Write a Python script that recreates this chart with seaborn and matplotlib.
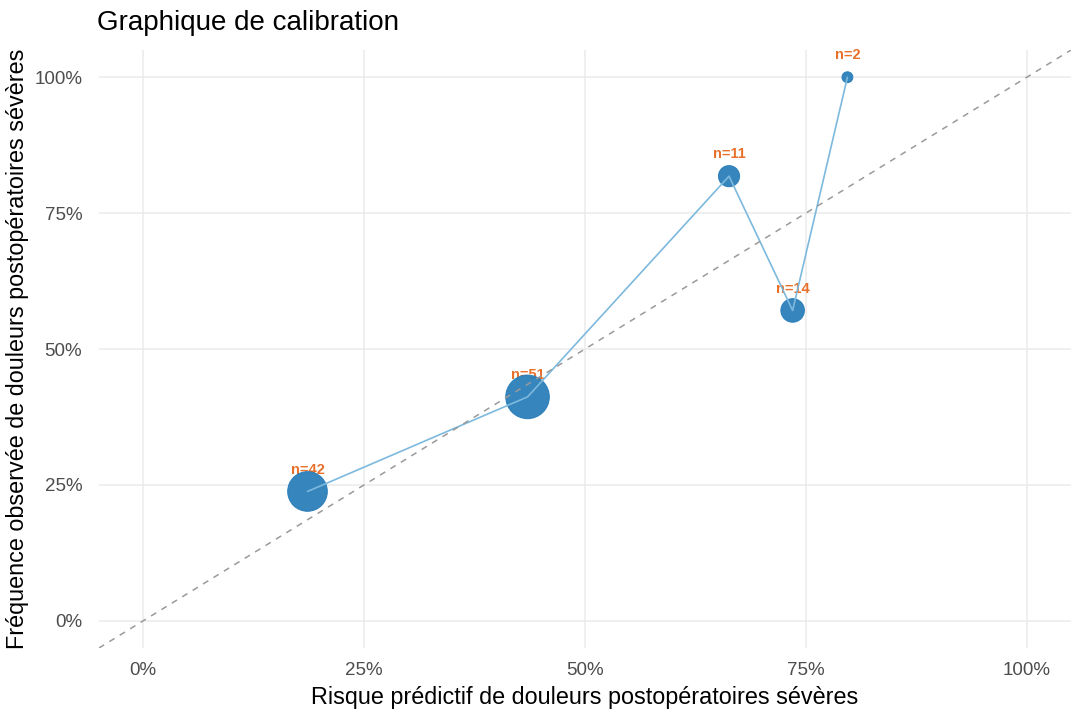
import numpy as np
import pandas as pd
import matplotlib
matplotlib.use("Agg")
import matplotlib.pyplot as plt
import seaborn as sns
from matplotlib.ticker import PercentFormatter

# calibration bins
predicted = [0.186, 0.435, 0.663, 0.735, 0.797]
observed = [0.238, 0.412, 0.818, 0.571, 1.0]
n_obs = [42, 51, 11, 14, 2]

labels = [f"n={n}" for n in n_obs]
df = pd.DataFrame({"pred": predicted, "obs": observed, "n": n_obs, "label": labels})

sns.set_theme(style="whitegrid")
plt.rcParams["font.family"] = ["Liberation Sans", "DejaVu Sans"]

fig = plt.figure(figsize=(10.78, 7.19), dpi=100)
ax = fig.add_axes([0.0918, 0.0987, 0.9017, 0.8317])

# labels under the points
for _, row in df.iterrows():
    ax.text(row["pred"], row["obs"] + 0.04, row["label"], color="#E8702A",
            fontsize=10.5, fontweight="bold", ha="center", va="center", zorder=2)

sns.scatterplot(data=df, x="pred", y="obs", size="n", sizes=(60, 980),
                size_norm=(2, 51), color="#2B7FBA", edgecolor="#2B7FBA",
                linewidth=0.8, alpha=0.95, legend=False, ax=ax, zorder=3)
sns.lineplot(data=df.sort_values("pred"), x="pred", y="obs", color="#7DB9DE",
             linewidth=1.2, sort=False, ax=ax, zorder=4)
ax.axline((0, 0), slope=1, color="#9A9A9A", linestyle=(0, (4, 4)),
          linewidth=1.1, zorder=5)

ax.set_xlim(-0.05, 1.05)
ax.set_ylim(-0.05, 1.05)
ticks = [0, 0.25, 0.5, 0.75, 1.0]
ax.set_xticks(ticks)
ax.set_yticks(ticks)
ax.xaxis.set_major_formatter(PercentFormatter(1.0, decimals=0))
ax.yaxis.set_major_formatter(PercentFormatter(1.0, decimals=0))
ax.tick_params(axis="both", labelsize=13.5, labelcolor="#4D4D4D", length=0)
ax.tick_params(axis="x", pad=10)
ax.tick_params(axis="y", pad=12)
ax.grid(True, color="#EBEBEB", linewidth=1.1)
for s in ax.spines.values():
    s.set_visible(False)

ax.set_xlabel("Risque prédictif de douleurs postopératoires sévères",
              fontsize=16.8, color="black", labelpad=5)
ax.set_ylabel("Fréquence observée de douleurs postopératoires sévères",
              fontsize=16.8, color="black", labelpad=4)
fig.text(0.09, 0.968, "Graphique de calibration", fontsize=20,
         color="black", ha="left", va="center")

fig.savefig("out.png", dpi=100)
